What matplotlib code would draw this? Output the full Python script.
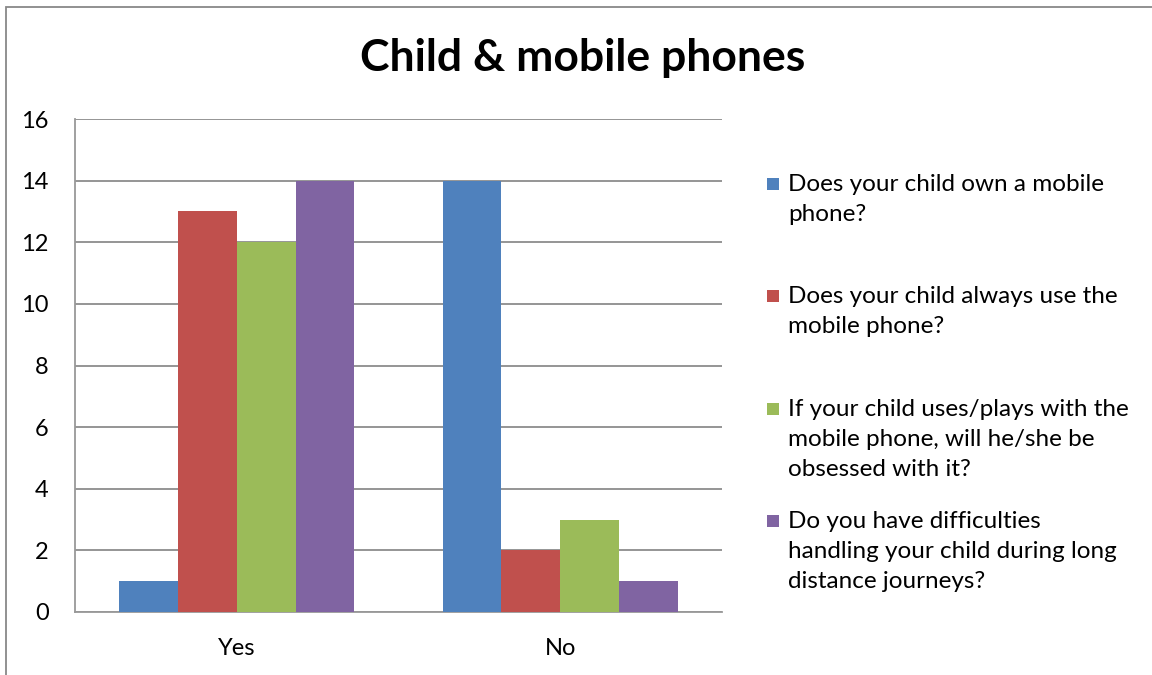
import matplotlib.pyplot as plt
from matplotlib.patches import Rectangle

categories = ['Yes', 'No']
series_names = [
    'Does your child own a mobile\nphone?',
    'Does your child always use the\nmobile phone?',
    'If your child uses/plays with the\nmobile phone, will he/she be\nobsessed with it?',
    'Do you have difficulties\nhandling your child during long\ndistance journeys?',
]
own_phone = [1, 14]
always_use = [13, 2]
obsessed = [12, 3]
journeys = [14, 1]
series_values = [own_phone, always_use, obsessed, journeys]
colors = ['#4F81BD', '#C0504D', '#9BBB59', '#8064A2']
yticks = [0, 2, 4, 6, 8, 10, 12, 14, 16]

plt.rcParams['font.family'] = ['Lato', 'DejaVu Sans']

fig = plt.figure(figsize=(11.52, 6.75), dpi=100)
ax = fig.add_axes([75 / 1152, 1 - 612 / 675, (722 - 75) / 1152, (612 - 119) / 675])

# excel style: gap width 150%
width = 1 / 5.5
x = list(range(len(categories)))
for i, (vals, c) in enumerate(zip(series_values, colors)):
    pos = [xi + (i - 1.5) * width for xi in x]
    ax.bar(pos, vals, width=width, color=c, zorder=3)

ax.set_xlim(-0.5, 1.5)
ax.set_ylim(0, 16)
ax.set_yticks(yticks)
ax.set_xticks(x)
ax.set_xticklabels(categories)
ax.tick_params(axis='both', length=0, labelsize=17)
ax.tick_params(axis='y', pad=19)
ax.tick_params(axis='x', pad=19)
ax.yaxis.grid(True, color='#8c8c8c', linewidth=1.3, zorder=0)
for s in ['top', 'right']:
    ax.spines[s].set_visible(False)
for s in ['left', 'bottom']:
    ax.spines[s].set_color('#999999')
    ax.spines[s].set_linewidth(1.3)

fig.text(583 / 1152, 1 - 58 / 675, 'Child & mobile phones', ha='center', va='center',
         fontsize=32, fontweight='bold')

# legend drawn by hand so entries are evenly spaced like excel
for i, (name, c) in enumerate(zip(series_names, colors)):
    ytop = 184 + i * 112.3
    fig.patches.append(Rectangle((767 / 1152, 1 - (ytop + 6) / 675), 12 / 1152, 12 / 675,
                                 transform=fig.transFigure, facecolor=c, edgecolor='none'))
    fig.text(788 / 1152, 1 - (ytop - 10) / 675, name, ha='left', va='top', fontsize=17.5,
             linespacing=1.53)

fig.patches.append(Rectangle((6 / 1152, -0.1), 1.2, 1.1 - 7 / 675, transform=fig.transFigure,
                             facecolor='none', edgecolor='#888888', linewidth=1.3))

fig.savefig('out.png', dpi=100)
